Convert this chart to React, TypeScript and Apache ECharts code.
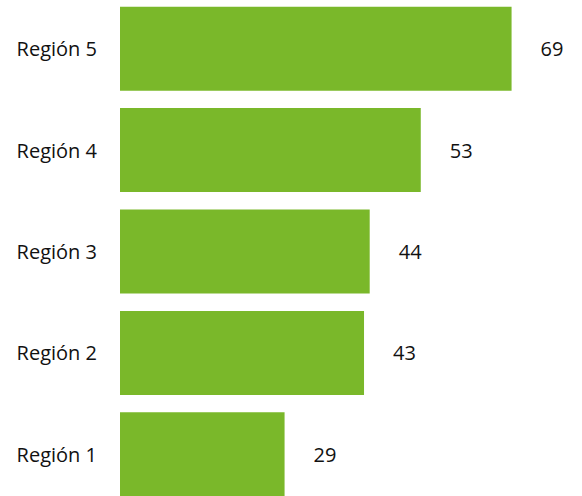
import React, { useEffect, useRef } from "react";
import * as echarts from "echarts";

const categories = ["Región 1", "Región 2", "Región 3", "Región 4", "Región 5"];
const values = [29, 43, 44, 53, 69];

export default function App() {
  const ref = useRef<HTMLDivElement>(null);
  useEffect(() => {
    if (!ref.current) return;
    const chart = echarts.init(ref.current, null, { renderer: "svg" });
    chart.setOption({
      animation: false,
      backgroundColor: "#ffffff",
      grid: { left: 120, right: 8, top: 0, bottom: 0, containLabel: false },
      xAxis: {
        type: "value",
        min: 0,
        max: 80,
        show: false,
      },
      yAxis: {
        type: "category",
        data: categories,
        axisLine: { show: false },
        axisTick: { show: false },
        axisLabel: {
          color: "#111111",
          fontSize: 20,
          fontFamily: "'Open Sans', 'Noto Sans', sans-serif",
          margin: 23,
        },
      },
      series: [
        {
          type: "bar",
          data: values,
          barWidth: 84,
          itemStyle: { color: "#7ab82a" },
          label: {
            show: true,
            position: "right",
            distance: 29,
            color: "#111111",
            fontSize: 20,
            fontFamily: "'Open Sans', 'Noto Sans', sans-serif",
          },
        },
      ],
    });
    return () => chart.dispose();
  }, []);
  return (
    <div
      style={{ position: "fixed", left: 0, top: 0, width: 582, height: 496, overflow: "hidden", background: "#fff" }}
    >
      <div
        ref={ref}
        style={{ position: "absolute", left: 0, top: -2, width: 582, height: 507 }}
      />
    </div>
  );
}
